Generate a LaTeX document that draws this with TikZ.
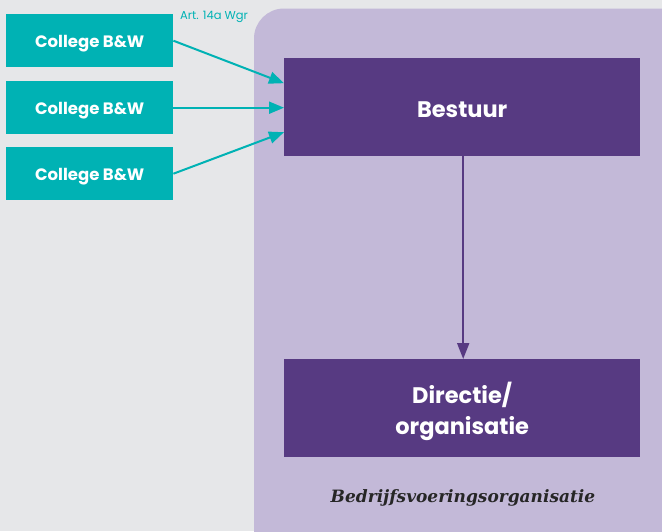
\documentclass[tikz,border=0pt]{standalone}
\usepackage{fontspec}
\setmainfont{Poppins}
\newfontfamily\serifbi{DejaVu Serif}
\usetikzlibrary{arrows.meta}
\definecolor{bggrey}{HTML}{E6E7E9}
\definecolor{lavender}{HTML}{C3B9D8}
\definecolor{teal}{HTML}{00B2B4}
\definecolor{deeppurple}{HTML}{573A82}
\tikzset{
  collegebox/.style={fill=teal, text=white, font=\bfseries\fontsize{16.5}{18}\selectfont,
    minimum width=167pt, minimum height=53pt, inner sep=0pt, anchor=north west,
    text height=13.6pt, text depth=0pt},
  purplebox/.style={fill=deeppurple, text=white, font=\bfseries\fontsize{22.5}{30.7}\selectfont,
    minimum width=356pt, minimum height=98pt, inner sep=0pt, anchor=north west, align=center,
    text depth=0pt},
  tealarrow/.style={draw=teal, line width=2pt, -{Triangle[length=15pt,width=12pt]}},
  purplearrow/.style={draw=deeppurple, line width=2pt, -{Triangle[length=16pt,width=12pt]}}
}
\begin{document}
\begin{tikzpicture}[x=1pt,y=-1pt]
  % canvas
  \fill[bggrey] (0,0) rectangle (662,531);
  \useasboundingbox (0,0) rectangle (662,531);
  % organisation panel
  \fill[lavender, rounded corners=30pt] (254,8.5) rectangle (690,560);
  % governing bodies
  \node[collegebox] (c1) at (6,14) {College B\&W};
  \node[collegebox] (c2) at (6,81) {College B\&W};
  \node[collegebox] (c3) at (6,147) {College B\&W};
  % board and management
  \node[purplebox, text height=20.6pt] (bestuur) at (284,58) {Bestuur};
  \node[purplebox, text height=52pt] (directie) at (284,359) {Directie/\\organisatie};
  % legal basis
  \node[text=teal, font=\fontsize{11.5}{13}\selectfont, anchor=west, inner sep=0pt] (art) at (180,17) {Art. 14a Wgr};
  % panel caption
  \node[font=\serifbi\bfseries\itshape\fontsize{17}{20}\selectfont, text=black!85] (cap) at (463,498) {Bedrijfsvoeringsorganisatie};
  % connectors
  \draw[tealarrow] (c1.east) -- ([yshift=24pt]bestuur.west);
  \draw[tealarrow] (c2.east) -- (c2.east -| bestuur.west);
  \draw[tealarrow] (c3.east) -- ([yshift=-25pt]bestuur.west);
  \draw[purplearrow] ([xshift=1pt]bestuur.south) -- ([xshift=1pt]directie.north);
\end{tikzpicture}
\end{document}
